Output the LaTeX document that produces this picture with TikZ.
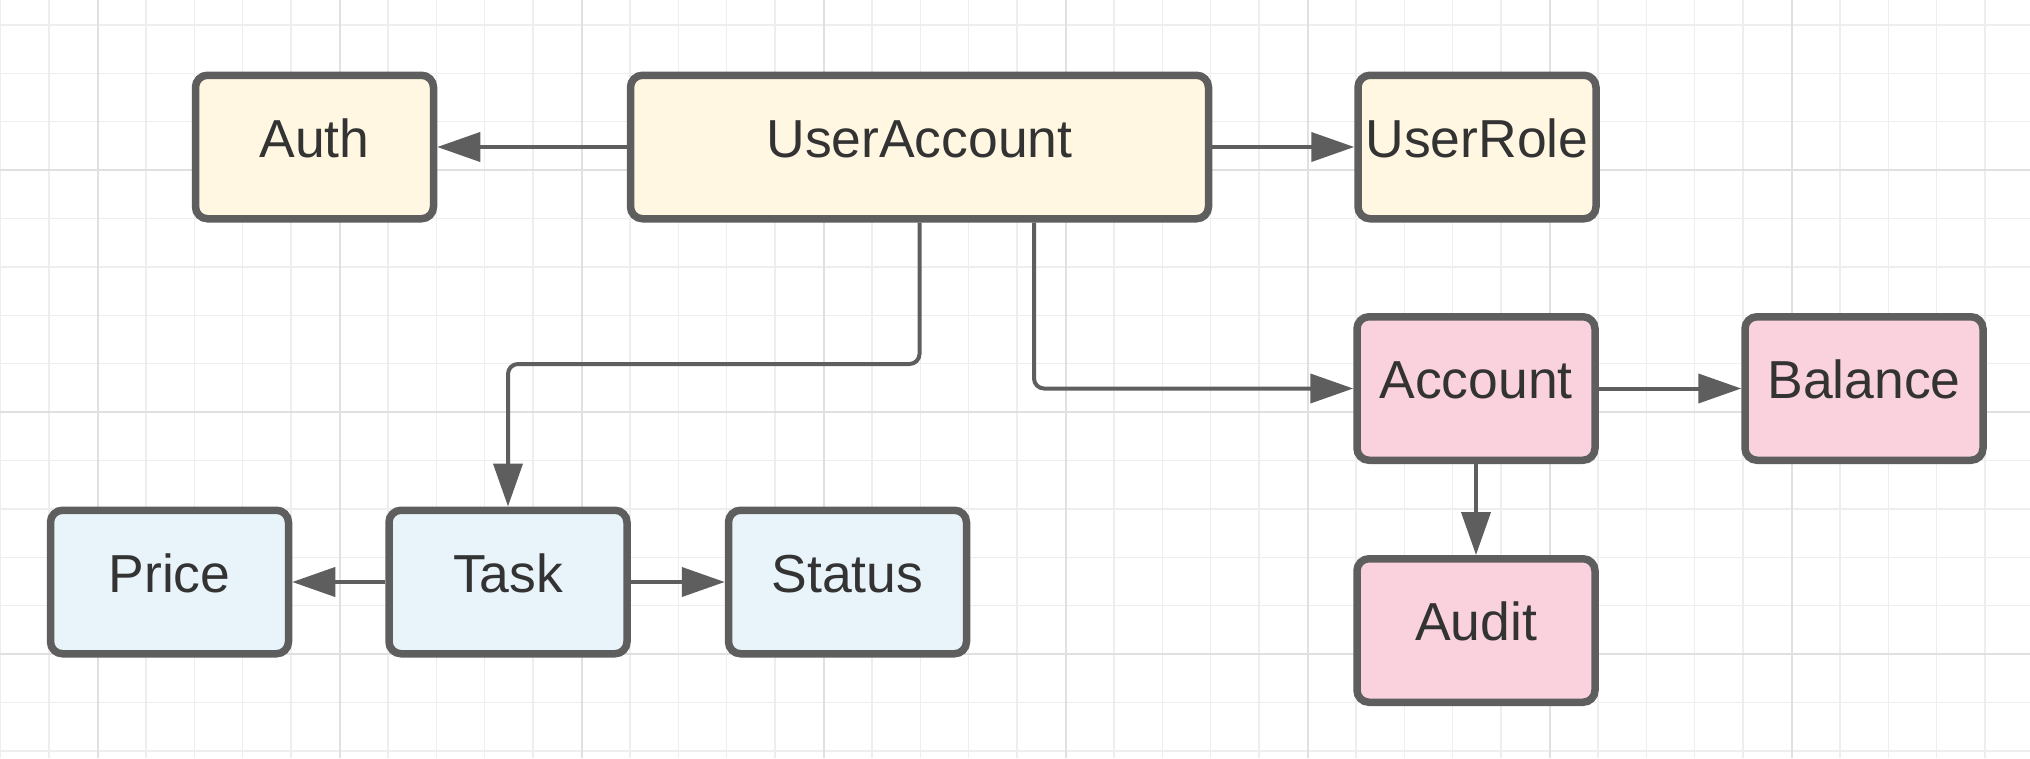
\documentclass[tikz,border=0pt]{standalone}
\usepackage{fontspec}
\setmainfont{Liberation Sans}
\usetikzlibrary{arrows.meta,calc}
\definecolor{gridminor}{HTML}{EEEEEE}
\definecolor{gridmajor}{HTML}{E0E0E0}
\definecolor{edgec}{HTML}{5E5E5E}
\definecolor{txtc}{HTML}{333333}
\definecolor{yel}{HTML}{FFF7E1}
\definecolor{blu}{HTML}{E8F4FA}
\definecolor{pnk}{HTML}{F9D2DD}
\tikzset{
  box/.style={draw=edgec, line width=7.5pt, rounded corners=12pt,
    minimum width=238pt, minimum height=143.5pt, inner sep=0pt,
    text=txtc, font=\fontsize{53.5}{60}\selectfont,
    text height=40pt, text depth=20pt},
  ybox/.style={box, fill=yel},
  bbox/.style={box, fill=blu},
  pbox/.style={box, fill=pnk},
  conn/.style={draw=edgec, line width=4pt,
    -{Triangle[length=43pt,width=29pt]}},
  gmin/.style={gridminor, line width=1.4pt},
  gmaj/.style={gridmajor, line width=2pt}
}
\begin{document}
\begin{tikzpicture}[x=1pt,y=-1pt]
\useasboundingbox (0,0) rectangle (2030,758);
\fill[white] (0,0) rectangle (2030,758);
% grid
\foreach \k in {0,...,41} {
  \pgfmathsetmacro\xx{0.7+48.4*\k}
  \draw[gmin] (\xx,0) -- (\xx,758);
}
\foreach \k in {0,...,15} {
  \pgfmathsetmacro\yy{24.8+48.4*\k}
  \draw[gmin] (0,\yy) -- (2030,\yy);
}
\foreach \xx in {97.5,339.5,581.5,823.5,1065.5,1307.5,1549.5,1791.5} {
  \draw[gmaj] (\xx,0) -- (\xx,758);
}
\foreach \yy in {170,412,654} {
  \draw[gmaj] (0,\yy) -- (2030,\yy);
}
% nodes
\node[ybox] (auth) at (314.5,147) {Auth};
\node[ybox, minimum width=578pt] (ua) at (919.5,147) {UserAccount};
\node[ybox] (role) at (1477,147) {UserRole};
\node[pbox] (acc) at (1476,388.5) {Account};
\node[pbox] (bal) at (1864,388.5) {Balance};
\node[pbox] (audit) at (1476,630.5) {Audit};
\node[bbox] (price) at (169.5,582) {Price};
\node[bbox] (task) at (508,582) {Task};
\node[bbox] (status) at (847.5,582) {Status};
% connectors
\draw[conn] (ua.west) -- (auth.east);
\draw[conn] (ua.east) -- (role.west);
\draw[conn, rounded corners=10pt] (ua.south) -- ++(0,141.5) -| (task.north);
\draw[conn, rounded corners=10pt] ([xshift=114.5pt]ua.south) |- (acc.west);
\draw[conn] (acc.east) -- (bal.west);
\draw[conn] (acc.south) -- (audit.north);
\draw[conn] (task.west) -- (price.east);
\draw[conn] (task.east) -- (status.west);
\end{tikzpicture}
\end{document}
